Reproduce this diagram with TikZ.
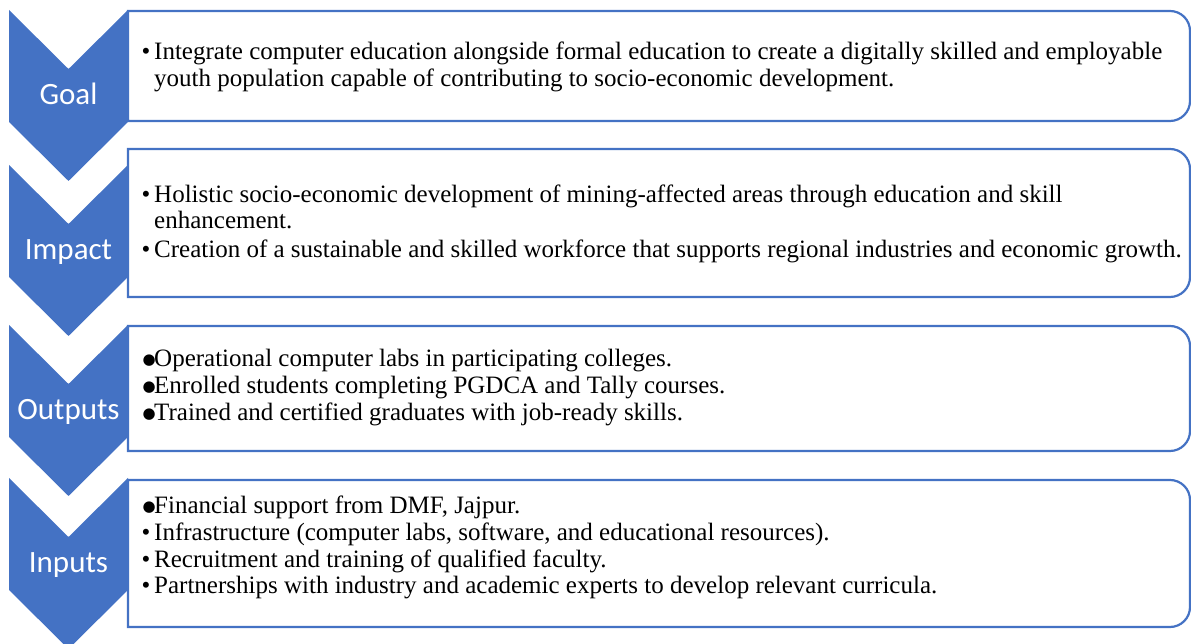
\documentclass[tikz,border=0pt]{standalone}
\usepackage{fontspec}
\setmainfont{Liberation Serif}
\newfontfamily\bodyfont{Liberation Serif}
\newfontfamily\lblfont{Carlito}
\newfontfamily\symfont{DejaVu Sans}
\definecolor{obl}{HTML}{4472C4}
\tikzset{
  chev/.style={fill=obl, draw=none},
  boxline/.style={draw=obl, line width=2.2pt, fill=white},
  lbl/.style={anchor=base, inner sep=0pt, text=white, font=\lblfont\fontsize{31}{31}\selectfont},
  txt/.style={anchor=base west, inner sep=0pt, font=\bodyfont\fontsize{25}{25}\selectfont},
  sbul/.style={anchor=base west, inner sep=0pt, font=\bodyfont\fontsize{25}{25}\selectfont},
  bbul/.style={anchor=base west, inner sep=0pt, font=\symfont\fontsize{15}{15}\selectfont}
}
\newcommand{\bigbul}{\raisebox{2.5pt}{●}}
\begin{document}
\begin{tikzpicture}[x=1pt,y=1pt]
\useasboundingbox (0,0) rectangle (1191,644);
% boxes
\draw[boxline] (128,633) -- (1170,633) arc[start angle=90,end angle=0,radius=20] -- (1190,543) arc[start angle=0,end angle=-90,radius=20] -- (128,523) -- cycle;
\draw[boxline] (128,495) -- (1170,495) arc[start angle=90,end angle=0,radius=20] -- (1190,367) arc[start angle=0,end angle=-90,radius=20] -- (128,347) -- cycle;
\draw[boxline] (128,318) -- (1170,318) arc[start angle=90,end angle=0,radius=20] -- (1190,213) arc[start angle=0,end angle=-90,radius=20] -- (128,193) -- cycle;
\draw[boxline] (128,164) -- (1170,164) arc[start angle=90,end angle=0,radius=20] -- (1190,37) arc[start angle=0,end angle=-90,radius=20] -- (128,17) -- cycle;
% chevrons
\fill[chev] (9,634) -- (68.5,575) -- (128,634) -- (128,522) -- (68.5,463) -- (9,522) -- cycle;
\fill[chev] (9,479) -- (68.5,420) -- (128,479) -- (128,367) -- (68.5,308) -- (9,367) -- cycle;
\fill[chev] (9,319) -- (68.5,260) -- (128,319) -- (128,207) -- (68.5,148) -- (9,207) -- cycle;
\fill[chev] (9,166) -- (68.5,107) -- (128,166) -- (128,54) -- (68.5,-5) -- (9,54) -- cycle;
% labels
\node[lbl] (lgoal) at (68.5,539) {Goal};
\node[lbl] (limpact) at (68.5,384) {Impact};
\node[lbl] (loutputs) at (68.5,224) {Outputs};
\node[lbl] (linputs) at (68.5,71) {Inputs};
% Goal text
\node[sbul] (gb1) at (141.5,584) {•};
\node[txt] (g1) at (154,584) {Integrate computer education alongside formal education to create a digitally skilled and employable};
\node[txt] (g2) at (154,557) {youth population capable of contributing to socio-economic development.};
% Impact text
\node[sbul] (ib1) at (141.5,441) {•};
\node[txt] (i1) at (154,441) {Holistic socio-economic development of mining-affected areas through education and skill};
\node[txt] (i2) at (154,415) {enhancement.};
\node[sbul] (ib2) at (141.5,386) {•};
\node[txt] (i3) at (154,386) {Creation of a sustainable and skilled workforce that supports regional industries and economic growth.};
% Outputs text
\node[bbul] (ob1) at (142.5,277) {\bigbul};
\node[txt] (o1) at (154,277) {Operational computer labs in participating colleges.};
\node[bbul] (ob2) at (142.5,250) {\bigbul};
\node[txt] (o2) at (154,250) {Enrolled students completing PGDCA and Tally courses.};
\node[bbul] (ob3) at (142.5,223) {\bigbul};
\node[txt] (o3) at (154,223) {Trained and certified graduates with job-ready skills.};
% Inputs text
\node[bbul] (nb1) at (142.5,130) {\bigbul};
\node[txt] (n1) at (154,130) {Financial support from DMF, Jajpur.};
\node[sbul] (nb2) at (141.5,103) {•};
\node[txt] (n2) at (154,103) {Infrastructure (computer labs, software, and educational resources).};
\node[sbul] (nb3) at (141.5,76) {•};
\node[txt] (n3) at (154,76) {Recruitment and training of qualified faculty.};
\node[sbul] (nb4) at (141.5,50) {•};
\node[txt] (n4) at (154,50) {Partnerships with industry and academic experts to develop relevant curricula.};
\end{tikzpicture}
\end{document}
